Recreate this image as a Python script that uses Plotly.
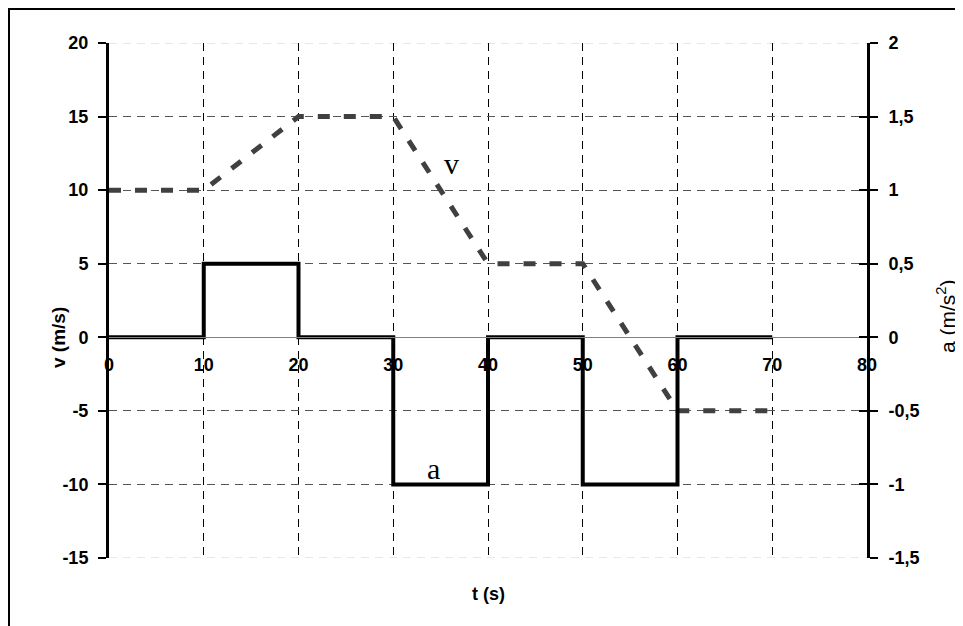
import plotly.graph_objects as go

# Data
t_v = [0, 10, 20, 30, 40, 50, 60, 70]
v_vals = [10, 10, 15, 15, 5, 5, -5, -5]

t_a = [0, 10, 10, 20, 20, 30, 30, 40, 40, 50, 50, 60, 60, 70]
a_vals = [0, 0, 0.5, 0.5, 0, 0, -1, -1, 0, 0, -1, -1, 0, 0]

x_ticks = [0, 10, 20, 30, 40, 50, 60, 70, 80]
v_ticks = [-15, -10, -5, 0, 5, 10, 15, 20]
v_ticktext = ["-15", "-10", "-5", "0", "5", "10", "15", "20"]
a_ticks = [-1.5, -1, -0.5, 0, 0.5, 1, 1.5, 2]
a_ticktext = ["-1,5", "-1", "-0,5", "0", "0,5", "1", "1,5", "2"]
grid_v_ticks = [-10, -5, 5, 10, 15]

FONT = "Liberation Sans, Arial, sans-serif"
SERIF = "Liberation Serif, Times New Roman, serif"

fig = go.Figure()

fig.add_trace(go.Scatter(
    x=t_v, y=v_vals, mode="lines", yaxis="y",
    line=dict(color="#404040", width=5, dash="12px,14px"),
    showlegend=False, hoverinfo="skip"))

fig.add_trace(go.Scatter(
    x=t_a, y=a_vals, mode="lines", yaxis="y2",
    line=dict(color="black", width=4),
    showlegend=False, hoverinfo="skip"))

tickfont = dict(family=FONT, size=18, color="black", weight="bold")

# page body has an 8px margin: figure is sized to fit the 963x626 window
fig.update_layout(
    width=955, height=618,
    margin=dict(l=101, r=96, t=35, b=68, autoexpand=False),
    paper_bgcolor="white", plot_bgcolor="white",
    font=dict(family=FONT, color="black"),
    xaxis=dict(
        range=[0, 80], tickvals=x_ticks, anchor="free", position=15/35,
        showline=True, linecolor="#808080", linewidth=1,
        ticks="", showgrid=True, gridcolor="black", gridwidth=1,
        griddash="8px,6px", zeroline=False, tickfont=tickfont,
        ticklabelstandoff=11,
    ),
    yaxis=dict(
        range=[-15, 20], tickvals=v_ticks, ticktext=v_ticktext, side="left",
        showline=True, linecolor="black", linewidth=3,
        ticks="outside", ticklen=8, tickwidth=2, tickcolor="black",
        showgrid=False, zeroline=False, tickfont=tickfont,
        ticklabelstandoff=6,
    ),
    yaxis2=dict(
        range=[-1.5, 2], tickvals=a_ticks, ticktext=a_ticktext,
        overlaying="y", side="right",
        showline=True, linecolor="black", linewidth=3,
        ticks="outside", ticklen=8, tickwidth=2, tickcolor="black",
        showgrid=False, zeroline=False, tickfont=tickfont,
        ticklabelstandoff=7,
    ),
    yaxis3=dict(
        range=[-15, 20], tickvals=grid_v_ticks, overlaying="y", side="left",
        showticklabels=False, ticks="", showline=False,
        showgrid=True, gridcolor="#555555", gridwidth=1, griddash="8px,6px",
        zeroline=False,
    ),
    yaxis4=dict(
        range=[-15, 20], tickvals=v_ticks, overlaying="y", side="right",
        showticklabels=False, ticks="inside", ticklen=8, tickwidth=2,
        tickcolor="black", showline=False, showgrid=False, zeroline=False,
    ),
)

# invisible traces to activate overlay axes
fig.add_trace(go.Scatter(x=[None], y=[None], yaxis="y3", showlegend=False, hoverinfo="skip"))
fig.add_trace(go.Scatter(x=[None], y=[None], yaxis="y4", showlegend=False, hoverinfo="skip"))

# light edge grid lines
for yv in [20, -15]:
    fig.add_shape(type="line", xref="x", yref="y", x0=0, x1=80, y0=yv, y1=yv,
                  line=dict(color="#d0d0d0", width=1, dash="8px,6px"), layer="below")

# outer frame (top and left edges visible; right/bottom run off the page)
fig.add_shape(type="rect", xref="paper", yref="paper",
              x0=(1 - 101) / 758, x1=1.3, y0=-0.3, y1=(550 - 1) / 515,
              line=dict(color="black", width=2), fillcolor="rgba(0,0,0,0)")

# annotations
fig.add_annotation(x=36.1, y=11.8, xref="x", yref="y", text="v", showarrow=False,
                   xanchor="center", yanchor="middle",
                   font=dict(family=SERIF, size=30, color="black"))
fig.add_annotation(x=34.3, y=-8.9, xref="x", yref="y", text="a", showarrow=False,
                   xanchor="center", yanchor="middle",
                   font=dict(family=SERIF, size=30, color="black"))

fig.add_annotation(x=40, y=(558 - 594) / 515, xref="x", yref="paper", text="t (s)",
                   showarrow=False, xanchor="center", yanchor="middle",
                   font=dict(family=FONT, size=18, color="black", weight="bold"))
fig.add_annotation(x=(58 - 109) / 758, y=(558 - 337) / 515, xref="paper", yref="paper",
                   text="v (m/s)", textangle=-90, showarrow=False,
                   xanchor="center", yanchor="middle",
                   font=dict(family=FONT, size=19, color="black", weight="bold"))
fig.add_annotation(x=(946 - 109) / 758, y=(558 - 316) / 515, xref="paper", yref="paper",
                   text="a (m/s<sup>2</sup>)", textangle=-90, showarrow=False,
                   xanchor="center", yanchor="middle",
                   font=dict(family=FONT, size=21, color="black"))

fig.write_html("out.html")
